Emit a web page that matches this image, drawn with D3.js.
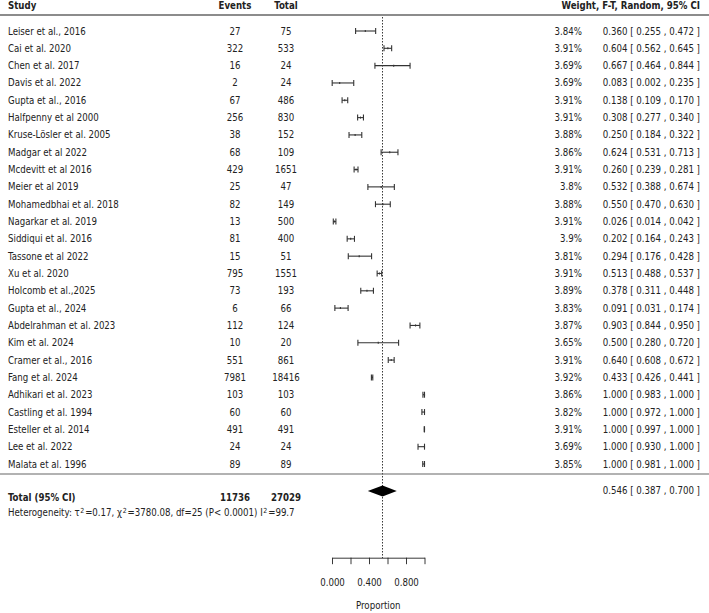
<!DOCTYPE html>
<html>
<head>
<meta charset="utf-8">
<script src="https://cdn.jsdelivr.net/npm/d3@7"></script>
<style>
  body { margin: 0; background: #fff; }
  svg text { font-family: "DejaVu Sans", sans-serif; font-size: 9.6px; font-stretch: condensed; fill: #222; }
</style>
</head>
<body>
<div id="chart"></div>
<script>
// study data
const studies = [
  "Leiser et al., 2016", "Cai et al. 2020", "Chen et al. 2017", "Davis et al. 2022",
  "Gupta et al., 2016", "Halfpenny et al 2000", "Kruse-Lösler et al. 2005", "Madgar et al 2022",
  "Mcdevitt et al 2016", "Meier et al 2019", "Mohamedbhai et al. 2018", "Nagarkar et al. 2019",
  "Siddiqui et al. 2016", "Tassone et al 2022", "Xu et al. 2020", "Holcomb et al.,2025",
  "Gupta et al., 2024", "Abdelrahman et al. 2023", "Kim et al. 2024", "Cramer et al., 2016",
  "Fang et al. 2024", "Adhikari et al. 2023", "Castling et al. 1994", "Esteller et al. 2014",
  "Lee et al. 2022", "Malata et al. 1996"
];
const events = [27, 322, 16, 2, 67, 256, 38, 68, 429, 25, 82, 13, 81, 15, 795, 73, 6, 112, 10, 551, 7981, 103, 60, 491, 24, 89];
const totals = [75, 533, 24, 24, 486, 830, 152, 109, 1651, 47, 149, 500, 400, 51, 1551, 193, 66, 124, 20, 861, 18416, 103, 60, 491, 24, 89];
const weights = [3.84, 3.91, 3.69, 3.69, 3.91, 3.91, 3.88, 3.86, 3.91, 3.8, 3.88, 3.91, 3.9, 3.81, 3.91, 3.89, 3.83, 3.87, 3.65, 3.91, 3.92, 3.86, 3.82, 3.91, 3.69, 3.85];
const est = [0.360, 0.604, 0.667, 0.083, 0.138, 0.308, 0.250, 0.624, 0.260, 0.532, 0.550, 0.026, 0.202, 0.294, 0.513, 0.378, 0.091, 0.903, 0.500, 0.640, 0.433, 1.000, 1.000, 1.000, 1.000, 1.000];
const lower = [0.255, 0.562, 0.464, 0.002, 0.109, 0.277, 0.184, 0.531, 0.239, 0.388, 0.470, 0.014, 0.164, 0.176, 0.488, 0.311, 0.031, 0.844, 0.280, 0.608, 0.426, 0.983, 0.972, 0.997, 0.930, 0.981];
const upper = [0.472, 0.645, 0.844, 0.235, 0.170, 0.340, 0.322, 0.713, 0.281, 0.674, 0.630, 0.042, 0.243, 0.428, 0.537, 0.448, 0.174, 0.950, 0.720, 0.672, 0.441, 1.000, 1.000, 1.000, 1.000, 1.000];

const pooled = { est: 0.546, lo: 0.387, hi: 0.700 };
const totalEvents = 11736, totalN = 27029;
const axisTicks = [0, 0.2, 0.4, 0.6, 0.8, 1.0];

const width = 709, height = 613;

const svg = d3.select("#chart").append("svg")
    .attr("width", width)
    .attr("height", height);

const x = d3.scaleLinear().domain([0, 1]).range([332, 424.5]);
const y = d3.scaleLinear().domain([0, studies.length - 1]).range([31, 464]);

const fmt = d3.format(".3f");
const ciText = (e, l, h) => `${fmt(e)} [ ${fmt(l)} , ${fmt(h)} ]`;

const rows = studies.map((s, i) => ({
    study: s, events: events[i], total: totals[i], weight: weights[i],
    est: est[i], lo: lower[i], hi: upper[i], i: i
}));

// column positions
const colStudy = 8, colEvents = 235, colTotal = 286, colWeight = 582, colCI = 700;

// header
const header = svg.append("g");
header.append("text").attr("x", colStudy).attr("y", 9).text("Study");
header.append("text").attr("x", colEvents).attr("y", 9).attr("text-anchor", "middle").text("Events");
header.append("text").attr("x", colTotal).attr("y", 9).attr("text-anchor", "middle").text("Total");
header.append("text").attr("x", colCI).attr("y", 9).attr("text-anchor", "end").text("Weight, F-T, Random, 95% CI");
header.selectAll("text").style("font-weight", "bold");

svg.append("line")
    .attr("x1", 0).attr("x2", width)
    .attr("y1", 15).attr("y2", 15)
    .style("stroke", "#666").style("stroke-width", 1.6);

// reference line at pooled estimate
svg.append("line")
    .attr("x1", x(pooled.est)).attr("x2", x(pooled.est))
    .attr("y1", 17).attr("y2", 558)
    .style("stroke", "#222").style("stroke-width", 0.9)
    .style("stroke-dasharray", "1.5,1.5");

// study rows
const row = svg.selectAll("g.row")
    .data(rows)
    .enter()
    .append("g")
    .attr("class", "row")
    .attr("transform", (d) => `translate(0,${y(d.i)})`);

row.append("text").attr("x", colStudy).attr("y", 3.5).text((d) => d.study);
row.append("text").attr("x", colEvents).attr("y", 3.5).attr("text-anchor", "middle").text((d) => d.events);
row.append("text").attr("x", colTotal).attr("y", 3.5).attr("text-anchor", "middle").text((d) => d.total);
row.append("text").attr("x", colWeight).attr("y", 3.5).attr("text-anchor", "end").text((d) => d.weight + "%");
row.append("text").attr("x", colCI).attr("y", 3.5).attr("text-anchor", "end").text((d) => ciText(d.est, d.lo, d.hi));

// confidence intervals
const ciStroke = "#333", ciWidth = 1.1;
row.append("line")
    .attr("x1", (d) => x(d.lo)).attr("x2", (d) => x(d.hi))
    .attr("y1", 0).attr("y2", 0)
    .style("stroke", ciStroke).style("stroke-width", ciWidth);
row.append("line")
    .attr("x1", (d) => x(d.lo)).attr("x2", (d) => x(d.lo))
    .attr("y1", -3).attr("y2", 3)
    .style("stroke", ciStroke).style("stroke-width", ciWidth);
row.append("line")
    .attr("x1", (d) => x(d.hi)).attr("x2", (d) => x(d.hi))
    .attr("y1", -3).attr("y2", 3)
    .style("stroke", ciStroke).style("stroke-width", ciWidth);
row.append("line")
    .attr("x1", (d) => x(d.est)).attr("x2", (d) => x(d.est))
    .attr("y1", -1).attr("y2", 1)
    .style("stroke", ciStroke).style("stroke-width", ciWidth);

// separator below the studies
svg.append("line")
    .attr("x1", 0).attr("x2", width)
    .attr("y1", 474).attr("y2", 474)
    .style("stroke", "#666").style("stroke-width", 1.2);

// pooled diamond
const dy = 491;
svg.append("path")
    .attr("d", `M${x(pooled.lo)},${dy} L${x(pooled.est)},${dy - 5.5} L${x(pooled.hi)},${dy} L${x(pooled.est)},${dy + 5.5} Z`)
    .style("fill", "#000");
svg.append("text").attr("x", colCI).attr("y", dy + 2.5).attr("text-anchor", "end")
    .text(ciText(pooled.est, pooled.lo, pooled.hi));

// totals
const tot = svg.append("g");
tot.append("text").attr("x", colStudy).attr("y", 501).text("Total (95% CI)");
tot.append("text").attr("x", colEvents).attr("y", 501).attr("text-anchor", "middle").text(totalEvents);
tot.append("text").attr("x", colTotal).attr("y", 501).attr("text-anchor", "middle").text(totalN);
tot.selectAll("text").style("font-weight", "bold");

// heterogeneity line with superscripts
const het = svg.append("text").attr("x", colStudy).attr("y", 516);
const hetParts = [
    ["Heterogeneity: \u03c4", 0], ["2", 1], ["=0.17, \u03c7", -1], ["2", 1],
    ["=3780.08, df=25 (P< 0.0001) I", -1], ["2", 1], ["=99.7", -1]
];
hetParts.forEach(([t, mode]) => {
    het.append("tspan")
        .attr("dy", mode === 1 ? -3.5 : mode === -1 ? 3.5 : 0)
        .attr("dx", mode === 1 ? 0.6 : mode === -1 ? 0.8 : 0)
        .style("font-size", mode === 1 ? "7px" : null)
        .text(t);
});

// x axis
const axis = d3.axisBottom(x)
    .tickValues(axisTicks)
    .tickSize(6.5)
    .tickSizeOuter(0)
    .tickPadding(15)
    .tickFormat((d, i) => (i % 2 === 0 ? d3.format(".3f")(d) : ""));

const gAxis = svg.append("g")
    .attr("transform", "translate(0,557.7)")
    .call(axis);
gAxis.selectAll("path, line").style("stroke", "#222").style("stroke-width", 0.9);
gAxis.selectAll("text")
    .style("font-family", "DejaVu Sans, sans-serif")
    .style("font-size", "9.6px")
    .style("font-stretch", "condensed")
    .style("fill", "#222");

svg.append("text")
    .attr("x", (x(0) + x(1)) / 2)
    .attr("y", 609)
    .attr("text-anchor", "middle")
    .text("Proportion");
</script>
</body>
</html>
